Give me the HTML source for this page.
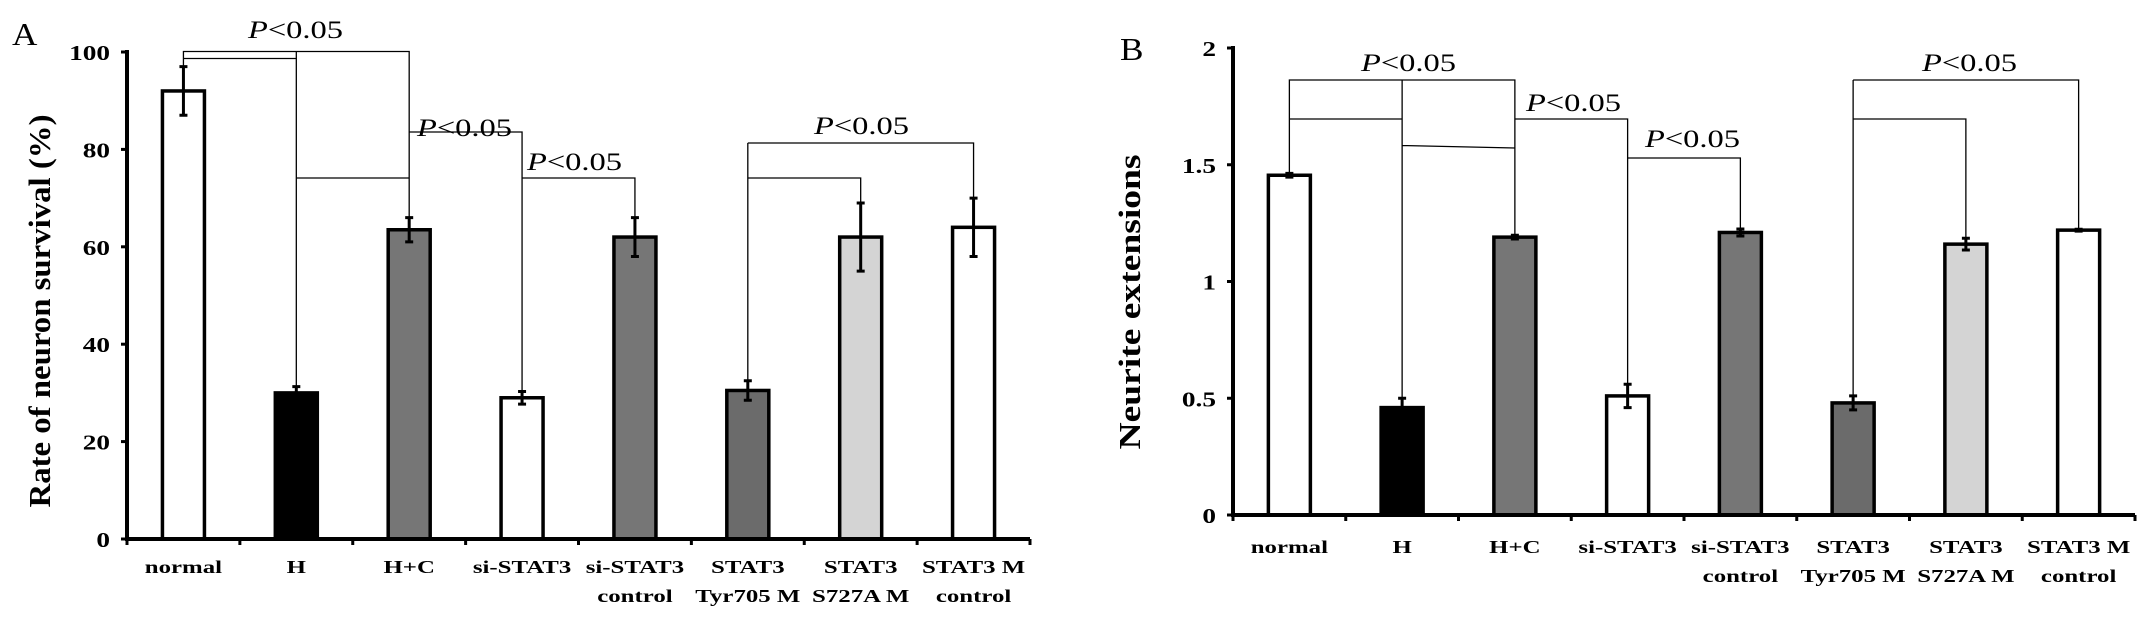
<!DOCTYPE html>
<html><head><meta charset="utf-8"><style>
html,body{margin:0;padding:0;background:#fff;width:2150px;height:617px;overflow:hidden}
svg{display:block}
text{font-family:"Liberation Serif",serif}
</style></head><body>
<svg id="chart" width="2150" height="617" viewBox="0 0 2150 617"></svg>
<script>
const categories = [["normal"],["H"],["H+C"],["si-STAT3"],["si-STAT3","control"],["STAT3","Tyr705 M"],["STAT3","S727A M"],["STAT3 M","control"]];
const fills = ["#ffffff","#000000","#767676","#ffffff","#767676","#6b6b6b","#d4d4d4","#ffffff"];
const valuesA = [92, 30, 63.5, 29, 62, 30.5, 62, 64];
const errorsA = [5, 1.3, 2.5, 1.3, 4, 2, 7, 6];
const ticksA = [0, 20, 40, 60, 80, 100];
const valuesB = [1.455, 0.46, 1.19, 0.51, 1.21, 0.48, 1.16, 1.22];
const errorsB = [0.008, 0.04, 0.008, 0.05, 0.015, 0.03, 0.025, 0.004];
const ticksB = [0, 0.5, 1, 1.5, 2];
const tickLabelsB = ["0", "0.5", "1", "1.5", "2"];

const NS = "http://www.w3.org/2000/svg";
const svg = document.getElementById("chart");
function el(tag, attrs, parent){ const e=document.createElementNS(NS,tag); for(const k in attrs) e.setAttribute(k,attrs[k]); (parent||svg).appendChild(e); return e; }
function txt(parent, s, x, y, size, anchor, sx, weight, style){
  const g = el("g",{transform:`translate(${x},${y}) scale(${sx},1)`},parent);
  const t = el("text",{x:0,y:0,"font-size":size,"text-anchor":anchor,"font-weight":weight||"bold","font-style":style||"normal",fill:"#000"},g);
  t.textContent = s; return t;
}
function pval(parent, x, y){
  const g = el("g",{transform:`translate(${x},${y}) scale(1.3,1)`},parent);
  
  
  const t = el("text",{x:0,y:0,"font-size":25,fill:"#000"},g);
  const i = document.createElementNS(NS,"tspan"); i.setAttribute("font-style","italic"); i.textContent="P"; t.appendChild(i);
  const r = document.createElementNS(NS,"tspan"); r.textContent="<0.05"; t.appendChild(r);
}

function panel(cfg){
  const g = el("g",{});
  
  
  const {x0,x1,y0,yTop,vmax} = cfg;
  const step = (x1-x0)/categories.length;
  const X = i => x0 + step*(i+0.5);
  const Y = v => y0 - (y0-yTop)*v/vmax;
  cfg.values.forEach((v,i)=>{
    const b = el("rect",{x:X(i)-21,y:Y(v),width:42,height:y0-Y(v),fill:fills[i],stroke:"#000","stroke-width":3.5},g);
    
    
    const e = cfg.errors[i];
    const eb = el("path",{d:`M${X(i)},${Y(v+e)}V${Y(v-e)}M${X(i)-4},${Y(v+e)}H${X(i)+4}M${X(i)-4},${Y(v-e)}H${X(i)+4}`,stroke:"#000","stroke-width":3,fill:"none"},g);
    
    
  });
  const ax = el("path",{d:`M${x0},${yTop-2}V${y0}H${x1}`,stroke:"#000","stroke-width":4,fill:"none"},g);
  
  
  for(let i=0;i<=categories.length;i++) el("line",{x1:x0+step*i,x2:x0+step*i,y1:y0,y2:y0+6,stroke:"#000","stroke-width":3},g);
  cfg.ticks.forEach((t,i)=>{
    el("line",{x1:x0-6,x2:x0,y1:Y(t),y2:Y(t),stroke:"#000","stroke-width":3},g);
    const tl = txt(g, cfg.tickLabels[i], x0-17, Y(t)+8, 21, "end", 1.3);
    
    
  });
  categories.forEach((c,i)=>{
    c.forEach((line,j)=>{
      const t = txt(g, line, X(i), cfg.lab1 + j*29, 18, "middle", 1.38);
      
      
    });
  });
  const tg = el("g",{transform:`translate(${cfg.titleX},${cfg.titleY}) scale(1.45,1) rotate(-90)`},g);
  const tt = el("text",{x:0,y:0,"font-size":21,"font-weight":"bold","text-anchor":"middle",textLength:cfg.titleLen,lengthAdjust:"spacingAndGlyphs"},tg);
  tt.textContent = cfg.title;
  
  
  const pl = txt(g, cfg.letter, cfg.letterX, cfg.letterY, 32, "start", 1.1, "normal");
  
  
  const br = el("path",{d:cfg.brackets(X,Y),stroke:"#000","stroke-width":1.3,fill:"none"},g);
  
  
  cfg.pvals.forEach(p=>pval(g,p[0],p[1]));
}

panel({name:"panel-a", x0:127, x1:1030, y0:539, yTop:52, vmax:100,
  values:valuesA, errors:errorsA, ticks:ticksA, tickLabels:ticksA.map(String),
  lab1:573, title:"Rate of neuron survival  (%)", titleX:50, titleY:311, titleLen:393,
  letter:"A", letterX:12, letterY:45,
  brackets:(X,Y)=>`M${X(0)},${Y(97)}V51.5H${X(2)}V${Y(66)}`+
    `M${X(0)},58.5H${X(1)}M${X(1)},51.5V${Y(31.3)}M${X(1)},178H${X(2)}`+
    `M${X(2)},132H${X(3)}V${Y(30.3)}M${X(3)},178H${X(4)}V${Y(66)}`+
    `M${X(5)},143H${X(7)}V${Y(70)}M${X(5)},178H${X(6)}V${Y(69)}M${X(5)},143V${Y(32.5)}`,
  pvals:[[248,38],[417,136],[527,170],[814,134]]
});
panel({name:"panel-b", x0:1233, x1:2135, y0:515, yTop:48, vmax:2,
  values:valuesB, errors:errorsB, ticks:ticksB, tickLabels:tickLabelsB,
  lab1:553, title:"Neurite  extensions", titleX:1140, titleY:302, titleLen:295,
  letter:"B", letterX:1120, letterY:60,
  brackets:(X,Y)=>`M${X(0)},${Y(1.463)}V80H${X(2)}V${Y(1.198)}`+
    `M${X(0)},119H${X(1)}M${X(1)},80V${Y(0.5)}M${X(1)},145.5L${X(2)},148`+
    `M${X(2)},119H${X(3)}V${Y(0.56)}M${X(3)},158H${X(4)}V${Y(1.225)}`+
    `M${X(5)},80H${X(7)}V${Y(1.224)}M${X(5)},119H${X(6)}V${Y(1.185)}M${X(5)},80V${Y(0.51)}`,
  pvals:[[1361,71],[1526,111],[1645,147],[1922,71]]
});
</script>
</body></html>
